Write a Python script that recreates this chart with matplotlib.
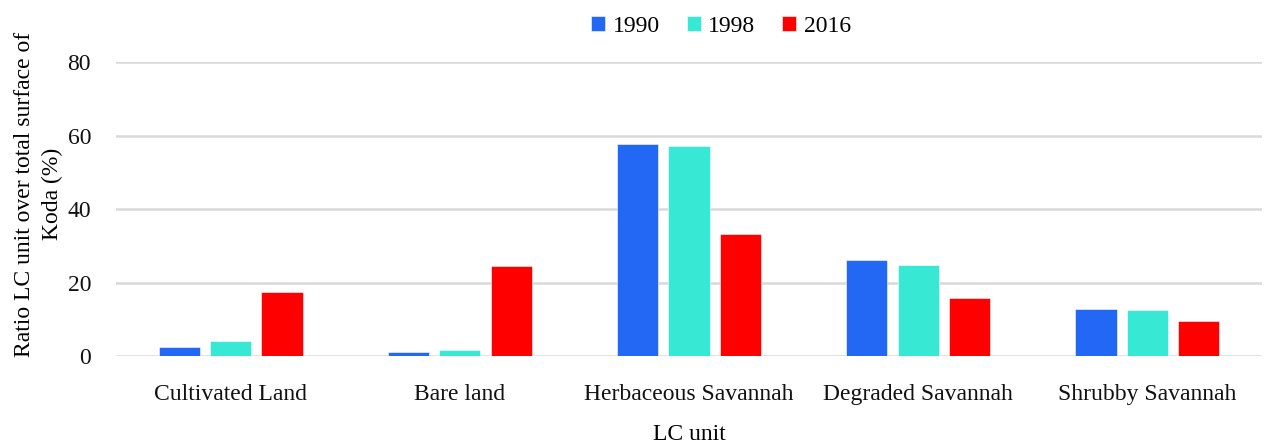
# Land cover ratios for Koda, grouped bar chart
import matplotlib.pyplot as plt
import numpy as np

categories = ["Cultivated Land", "Bare land", "Herbaceous Savannah",
              "Degraded Savannah", "Shrubby Savannah"]
years = ["1990", "1998", "2016"]
v1990 = [2.5, 1.1, 57.6, 26.1, 12.9]
v1998 = [4.1, 1.6, 57.2, 24.9, 12.5]
v2016 = [17.4, 24.5, 33.2, 15.7, 9.4]
colors = ["#2367F5", "#37E8D5", "#FF0000"]

plt.rcParams['font.family'] = ['Liberation Serif', 'DejaVu Serif']

fig = plt.figure(figsize=(12.67, 4.47), dpi=100)
ax = fig.add_axes([0.0916, 0.2036, 0.9044, 0.6574])

x = np.arange(len(categories))
width = 0.18
step = 0.224
for i, (vals, lab) in enumerate(zip([v1990, v1998, v2016], years)):
    ax.bar(x + (i - 1) * step, vals, width, color=colors[i], label=lab,
           edgecolor='white', linewidth=0.4, zorder=3)

ax.set_xlim(-0.5, len(categories) - 0.5)
ax.set_ylim(0, 80)
ax.set_yticks([0, 20, 40, 60, 80])
ax.set_xticks(x)
ax.set_xticklabels(categories)
ax.tick_params(axis='both', length=0, labelsize=17, colors='#111111')
ax.tick_params(axis='x', pad=20)
ax.tick_params(axis='y', pad=18)
ax.grid(axis='y', color='#d9d9d9', linewidth=1.8, zorder=0)
for s in ax.spines.values():
    s.set_visible(False)

ax.set_ylabel("Ratio LC unit over total surface of\nKoda (%)", fontsize=17,
              linespacing=1.45)
ax.yaxis.set_label_coords(-0.046, 0.551)
ax.set_xlabel("LC unit", fontsize=17, labelpad=14)

fig.legend(loc='upper center', bbox_to_anchor=(0.569, 1.012), ncol=3,
           frameon=False, fontsize=17, handlelength=0.6, handleheight=0.6,
           handletextpad=0.3, columnspacing=1.15)

plt.savefig("out.png", dpi=100)
